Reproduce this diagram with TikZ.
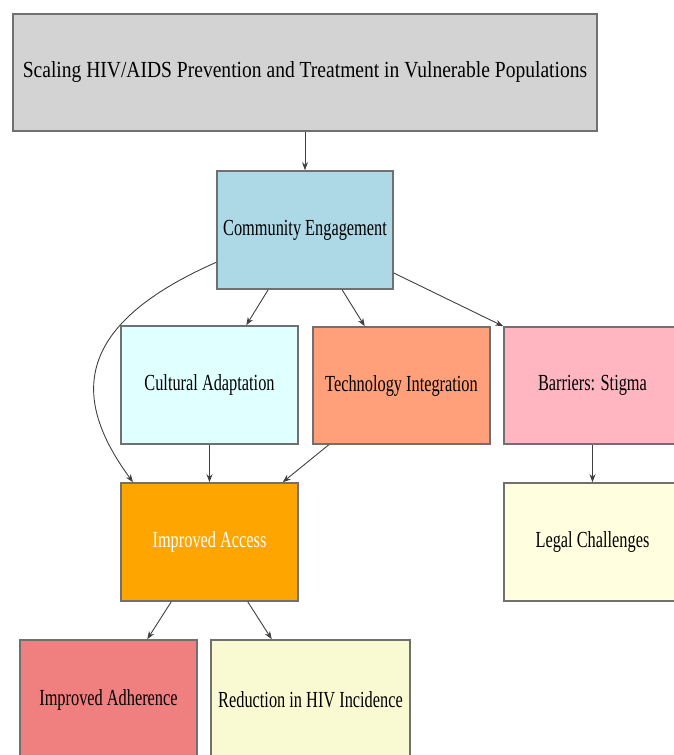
\documentclass[tikz,border=0pt]{standalone}
\usepackage{fontspec}
\setmainfont{Liberation Serif}[FakeStretch=0.71]
\newfontfamily\titlefont{Liberation Serif}[FakeStretch=0.85]
\usetikzlibrary{arrows.meta}
\definecolor{cTitle}{HTML}{D3D3D3}
\definecolor{cCE}{HTML}{ADD8E6}
\definecolor{cCA}{HTML}{E0FFFF}
\definecolor{cTI}{HTML}{FFA07A}
\definecolor{cBS}{HTML}{FFB6C1}
\definecolor{cIA}{HTML}{FFA500}
\definecolor{cLC}{HTML}{FFFFE0}
\definecolor{cIAd}{HTML}{F08080}
\definecolor{cRHI}{HTML}{FAFAD2}
\definecolor{cBorder}{HTML}{707070}
\definecolor{cEdge}{HTML}{404040}
\tikzset{
  box/.style={draw=cBorder, line width=1.6pt, rectangle, inner sep=0pt,
    minimum width=177pt, minimum height=118pt, align=center,
    font=\fontsize{23}{25}\selectfont, text=black},
  conn/.style={draw=cEdge, line width=0.9pt, -{Stealth[length=8pt,width=6pt]}}
}
\begin{document}
\begin{tikzpicture}[x=1pt,y=-1pt]
\useasboundingbox (0,0) rectangle (674,755);
\clip (0,0) rectangle (674,755);
\node[box, fill=cTitle, minimum width=584pt, minimum height=117pt, font=\titlefont\fontsize{23}{25}\selectfont] (title) at (305,72.5) {Scaling HIV/AIDS Prevention and Treatment in Vulnerable Populations};
\node[box, fill=cCE, minimum width=176pt] (ce) at (305,230) {Community Engagement};
\node[box, fill=cCA] (ca) at (209.5,385) {Cultural Adaptation};
\node[box, fill=cTI, minimum height=117pt] (ti) at (401.5,385.5) {Technology Integration};
\node[box, fill=cBS, minimum height=117pt] (bs) at (592.5,385.5) {Barriers: Stigma};
\node[box, fill=cIA, text=white] (ia) at (209.5,542) {Improved Access};
\node[box, fill=cLC] (lc) at (592.5,542) {Legal Challenges};
\node[box, fill=cIAd, minimum height=120pt] (iad) at (108.5,700) {Improved Adherence};
\node[box, fill=cRHI, minimum width=199pt, minimum height=120pt] (rhi) at (310.5,700) {Reduction in HIV Incidence};

\draw[conn] (title) -- (ce);
\draw[conn] (ce) -- (ca);
\draw[conn] (ce) -- (ti);
\draw[conn] (ce) -- (bs.north west);
\draw[conn] (ce.200) .. controls (67,328) and (75,403) .. (ia.142);
\draw[conn] (ca) -- (ia);
\draw[conn] (ti) -- (ia);
\draw[conn] (bs) -- (lc);
\draw[conn] (ia) -- (iad);
\draw[conn] (ia) -- (rhi);
\end{tikzpicture}
\end{document}
